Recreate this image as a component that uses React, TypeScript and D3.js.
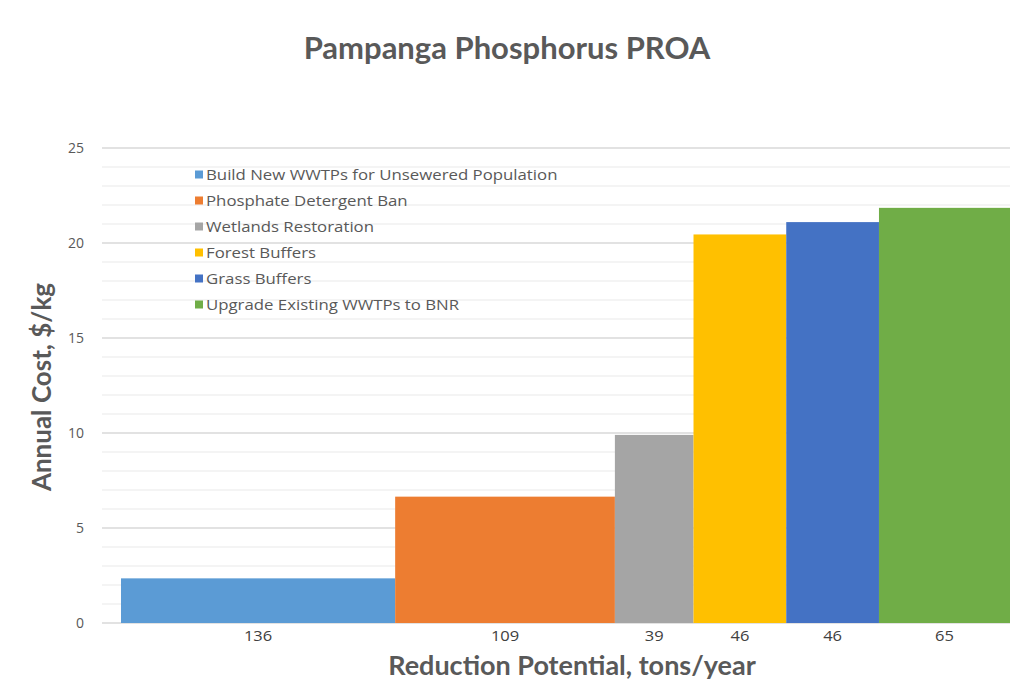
import React from "react";
import * as d3 from "d3";

const categories = [
  "Build New WWTPs for Unsewered Population",
  "Phosphate Detergent Ban",
  "Wetlands Restoration",
  "Forest Buffers",
  "Grass Buffers",
  "Upgrade Existing WWTPs to BNR",
];
const reduction = [136, 109, 39, 46, 46, 65];
const annualCost = [2.35, 6.65, 9.9, 20.45, 21.1, 21.85];
const colors = ["#5B9BD5", "#ED7D31", "#A5A5A5", "#FFC000", "#4472C4", "#70AD47"];
const yTicks = [0, 5, 10, 15, 20, 25];

const W = 1024;
const H = 686;
const BOLD = "Lato, 'Open Sans', sans-serif";
const REG = "'Open Sans', Lato, sans-serif";

export default function App() {
  const total = d3.sum(reduction);
  const x = d3.scaleLinear().domain([0, total]).range([121, 1010]);
  const y = d3.scaleLinear().domain([0, 25]).range([623, 148]);
  const starts = d3.cumsum([0, ...reduction.slice(0, -1)]);
  const minor = d3.range(0, 26, 1);

  return (
    <svg
      width={W}
      height={H}
      style={{ position: "absolute", left: 0, top: 0, background: "#fff" }}
    >
      <rect width={W} height={H} fill="#fff" />
      <text x={507} y={59} textAnchor="middle" fontFamily={BOLD} fontSize={31} fontWeight="bold" fill="#595959">
        Pampanga Phosphorus PROA
      </text>
      {minor.map((v) => (
        <line
          key={v}
          x1={102}
          x2={1010}
          y1={y(v)}
          y2={y(v)}
          stroke={v % 5 === 0 ? "#d9d9d9" : "#f0f0f0"}
          strokeWidth={1.3}
        />
      ))}
      {yTicks.map((v) => (
        <text key={v} x={84} y={y(v)} dy="0.35em" textAnchor="end" fontFamily={REG} fontSize={14} fill="#595959">
          {v}
        </text>
      ))}
      {reduction.map((r, i) => (
        <rect
          key={i}
          x={x(starts[i])}
          width={x(starts[i] + r) - x(starts[i])}
          y={y(annualCost[i])}
          height={y(0) - y(annualCost[i])}
          fill={colors[i]}
        />
      ))}
      {reduction.map((r, i) => (
        <text
          key={i}
          transform={`translate(${x(starts[i] + r / 2)}, 641) scale(1.1, 1)`}
          textAnchor="middle"
          fontFamily={REG}
          fontSize={15}
          fill="#404040"
        >
          {r}
        </text>
      ))}
      {categories.map((c, i) => (
        <g key={c} transform={`translate(195, ${174.5 + i * 26})`}>
          <rect x={0} y={-4} width={8} height={8} fill={colors[i]} />
          <text transform="translate(11, 0) scale(1.12, 1)" dy="0.36em" fontFamily={REG} fontSize={15} fill="#595959">
            {c}
          </text>
        </g>
      ))}
      <text
        transform="translate(51, 387) rotate(-90)"
        textAnchor="middle"
        fontFamily={BOLD}
        fontSize={26}
        fontWeight="bold"
        fill="#595959"
      >
        Annual Cost, $/kg
      </text>
      <text x={572} y={675} textAnchor="middle" fontFamily={BOLD} fontSize={27} fontWeight="bold" fill="#595959">
        Reduction Potential, tons/year
      </text>
    </svg>
  );
}
